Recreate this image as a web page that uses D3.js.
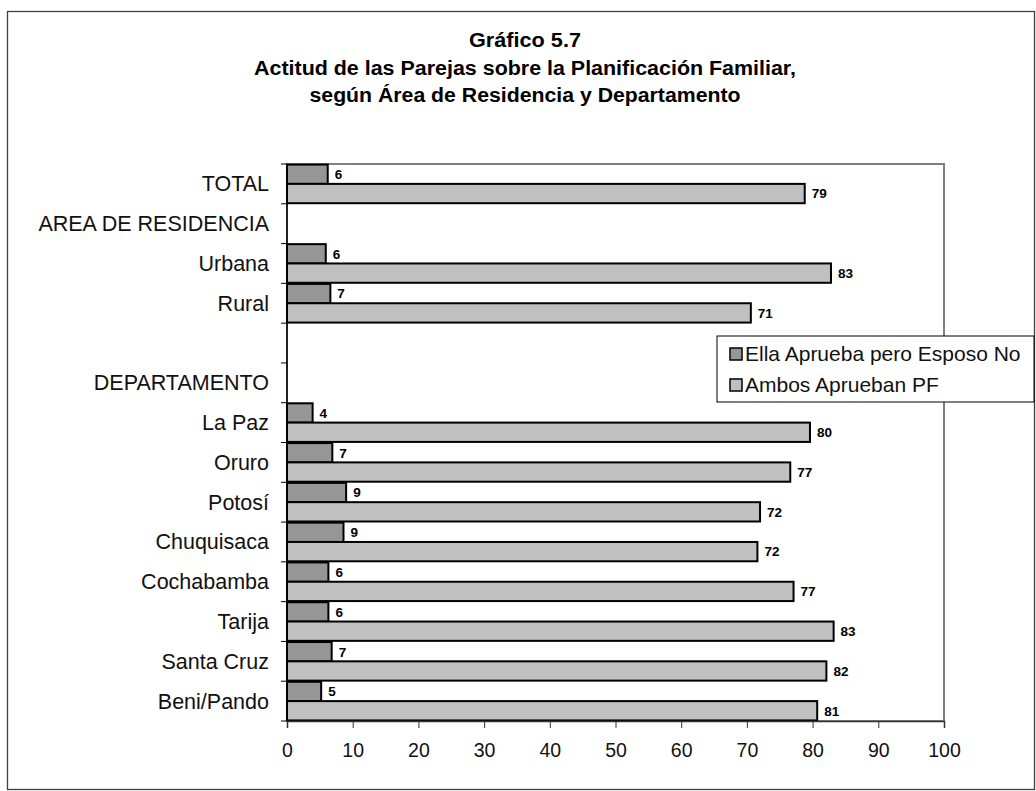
<!DOCTYPE html>
<html lang="es">
<head>
<meta charset="utf-8">
<script src="https://cdn.jsdelivr.net/npm/d3@7"></script>
<style>
  html, body { margin: 0; padding: 0; background: #fff; }
  svg { display: block; font-family: "Liberation Sans", Arial, sans-serif; }
</style>
</head>
<body>
<svg id="chart" width="1036" height="791"></svg>
<script>
const titleLines = [
  "Gráfico 5.7",
  "Actitud de las Parejas sobre la Planificación Familiar,",
  "según Área de Residencia y Departamento",
];
const categories = [
  "TOTAL", "AREA DE RESIDENCIA", "Urbana", "Rural", "", "DEPARTAMENTO",
  "La Paz", "Oruro", "Potosí", "Chuquisaca", "Cochabamba", "Tarija", "Santa Cruz", "Beni/Pando",
];
const seriesNames = ["Ella Aprueba pero Esposo No", "Ambos Aprueban PF"];
const ellaAprueba = [6.2, null, 5.9, 6.6, null, null, 3.9, 6.9, 9.0, 8.6, 6.3, 6.3, 6.8, 5.2];
const ambosAprueban = [78.8, null, 82.8, 70.6, null, null, 79.6, 76.6, 72.0, 71.6, 77.1, 83.2, 82.1, 80.7];
const xTicks = [0, 10, 20, 30, 40, 50, 60, 70, 80, 90, 100];

(() => {
  const svg = d3.select("#chart");
  const colors = ["#969696", "#c0c0c0"];
  const fmt = d3.format(".0f");

  // outer chart frame
  svg.append("rect")
    .attr("x", 7.5).attr("y", 11.5)
    .attr("width", 1027).attr("height", 778)
    .attr("fill", "#fff")
    .attr("stroke", "#404040")
    .attr("stroke-width", 1.3);

  // title
  const titleW = [112, 542, 431];
  svg.append("g")
    .selectAll("text")
    .data(titleLines)
    .join("text")
    .attr("x", 525)
    .attr("y", (d, i) => 47 + i * 27.5)
    .attr("text-anchor", "middle")
    .attr("font-family", '"Liberation Sans Narrow", "Arial Narrow", "Liberation Sans", Arial, sans-serif')
    .attr("font-weight", "bold")
    .attr("font-size", 20)
    .attr("textLength", (d, i) => titleW[i])
    .attr("lengthAdjust", "spacingAndGlyphs")
    .text((d) => d);

  const plot = { left: 287, right: 944, top: 164, bottom: 721 };

  const x = d3.scaleLinear().domain([0, 100]).range([plot.left, plot.right]);
  const y = d3.scaleBand().domain(categories).range([plot.top, plot.bottom]);
  const inner = d3.scaleBand()
    .domain([0, 1])
    .range([0, y.bandwidth()])
    .paddingOuter(0.03);

  // plot area frame
  svg.append("rect")
    .attr("x", plot.left).attr("y", plot.top)
    .attr("width", plot.right - plot.left).attr("height", plot.bottom - plot.top)
    .attr("fill", "#fff")
    .attr("stroke", "#808080")
    .attr("stroke-width", 2);

  const rows = categories.map((c, i) => ({ cat: c, vals: [ellaAprueba[i], ambosAprueban[i]] }));
  const bars = rows.flatMap((r) =>
    r.vals.map((v, k) => ({ cat: r.cat, k, v })).filter((d) => d.v != null)
  );

  const g = svg.append("g");
  g.selectAll("rect.bar")
    .data(bars)
    .join("rect")
    .attr("class", "bar")
    .attr("x", x(0))
    .attr("y", (d) => y(d.cat) + inner(d.k))
    .attr("width", (d) => x(d.v) - x(0))
    .attr("height", inner.bandwidth())
    .attr("fill", (d) => colors[d.k])
    .attr("stroke", "#000")
    .attr("stroke-width", 2);

  g.selectAll("text.val")
    .data(bars)
    .join("text")
    .attr("class", "val")
    .attr("x", (d) => x(d.v) + 7)
    .attr("y", (d) => y(d.cat) + inner(d.k) + inner.bandwidth() / 2)
    .attr("dy", "0.36em")
    .attr("font-size", 13.5)
    .attr("font-weight", "bold")
    .text((d) => fmt(d.v));

  // left axis: ticks at band edges
  const edges = d3.range(categories.length + 1).map((i) => plot.top + i * y.step());
  svg.append("g")
    .selectAll("line")
    .data(edges)
    .join("line")
    .attr("x1", plot.left - 6).attr("x2", plot.left)
    .attr("y1", (d) => d).attr("y2", (d) => d)
    .attr("stroke", "#000");
  svg.append("line")
    .attr("x1", plot.left).attr("x2", plot.left)
    .attr("y1", plot.top).attr("y2", plot.bottom)
    .attr("stroke", "#000").attr("stroke-width", 1.5);

  svg.append("g")
    .selectAll("text")
    .data(categories)
    .join("text")
    .attr("x", 269)
    .attr("y", (d) => y(d) + y.bandwidth() / 2)
    .attr("dy", "0.35em")
    .attr("text-anchor", "end")
    .attr("font-size", 21.5)
    .attr("fill", "#111")
    .text((d) => d);

  // bottom axis
  const xAxis = svg.append("g")
    .attr("transform", `translate(0,${plot.bottom})`)
    .call(d3.axisBottom(x).tickValues(xTicks).tickSize(7).tickPadding(15).tickFormat(fmt));
  xAxis.select(".domain").attr("stroke", "#333").attr("stroke-width", 1.5);
  xAxis.selectAll(".tick line").attr("stroke", "#333");
  xAxis.selectAll(".tick text")
    .attr("font-family", '"Liberation Sans", Arial, sans-serif')
    .attr("font-size", 19.5)
    .attr("fill", "#111");

  // legend
  const legend = svg.append("g").attr("transform", "translate(717,336)");
  legend.append("rect")
    .attr("width", 317).attr("height", 66)
    .attr("fill", "#fff")
    .attr("stroke", "#000");
  const items = legend.selectAll("g.item")
    .data(seriesNames)
    .join("g")
    .attr("class", "item")
    .attr("transform", (d, i) => `translate(13,${18 + i * 31})`);
  items.append("rect")
    .attr("x", 0).attr("y", -6)
    .attr("width", 12).attr("height", 12)
    .attr("fill", (d, i) => colors[i])
    .attr("stroke", "#000")
    .attr("stroke-width", 1.5);
  items.append("text")
    .attr("x", 15)
    .attr("dy", "0.35em")
    .attr("font-size", 21)
    .attr("fill", "#111")
    .text((d) => d);
})();
</script>
</body>
</html>
